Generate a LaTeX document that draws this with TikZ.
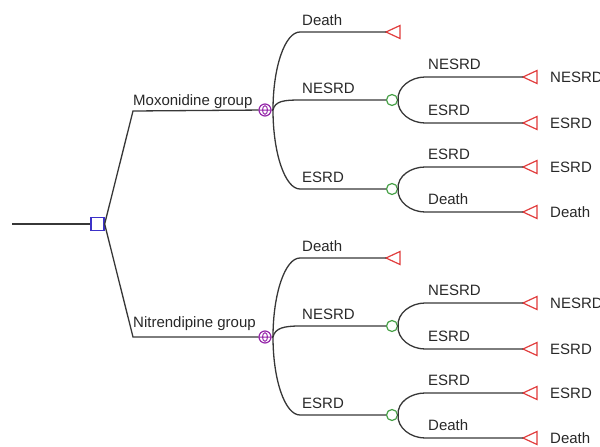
\documentclass[tikz,border=0pt]{standalone}
\usepackage{fontspec}
\setmainfont{Liberation Sans}
\definecolor{linegray}{RGB}{55,55,55}
\definecolor{textgray}{RGB}{40,40,40}
\definecolor{decblue}{RGB}{60,50,200}
\definecolor{chgreen}{RGB}{70,160,70}
\definecolor{mkpurple}{RGB}{150,40,170}
\definecolor{termred}{RGB}{225,60,60}
\begin{document}
\begin{tikzpicture}[x=1pt,y=-1pt,
  br/.style={draw=linegray, line width=1.3pt},
  decision/.style={draw=decblue, line width=1.3pt, rectangle, minimum width=13pt, minimum height=13pt, inner sep=0pt},
  chance/.style={draw=chgreen, line width=1.2pt, circle, minimum size=11pt, inner sep=0pt},
  markov/.style={draw=mkpurple, line width=1.2pt, circle, minimum size=12pt, inner sep=0pt},
  termtri/.style={draw=termred, line width=1.2pt, line join=miter},
  lbl/.style={font=\fontsize{15}{16}\selectfont, text=textgray, inner sep=0pt, anchor=base west},
]
\useasboundingbox (0,0) rectangle (600,447);

% root and decision node
\coordinate (root) at (12,224);
\node[decision] (dec) at (97.5,224) {};
\draw[br] (root) -- (dec);

% group corners
\coordinate (ka) at (133,111);
\coordinate (kb) at (133,337);

% markov nodes
\node[markov] (m1) at (265,110) {};
\node[markov] (m2) at (265,337) {};
\draw[mkpurple, line width=1pt] (m1.center) ellipse (2.5 and 4.3) (m1.west) -- (m1.east);
\draw[mkpurple, line width=1pt] (m2.center) ellipse (2.5 and 4.3) (m2.west) -- (m2.east);

\draw[br] (dec.east) -- (ka) -- (m1);
\draw[br] (dec.east) -- (kb) -- (m2);
\node[lbl] (lmox) at (133,105) {Moxonidine group};
\node[lbl] (lnit) at (133,327) {Nitrendipine group};

% chance nodes
\node[chance] (c1) at (392,100) {};
\node[chance] (c2) at (392,189) {};
\node[chance] (c3) at (392,326) {};
\node[chance] (c4) at (392,415) {};

% terminal apex coordinates
\coordinate (t1) at (386,32);
\coordinate (t2) at (386,258);
\coordinate (u1) at (523,77);
\coordinate (u2) at (523,123);
\coordinate (u3) at (523,167);
\coordinate (u4) at (523,212);
\coordinate (u5) at (523,303);
\coordinate (u6) at (523,349);
\coordinate (u7) at (523,393);
\coordinate (u8) at (523,438);

\foreach \t in {t1,t2,u1,u2,u3,u4,u5,u6,u7,u8}
  \draw[termtri] (\t) -- ++(14,-6.5) -- ++(0,13) -- cycle;

% upper markov branches
\coordinate (s1) at (273,110);
\draw[br] (m1.east) -- (s1);
\draw[br] (s1) .. controls (273,67) and (285,32) .. (300,32) -- (t1);
\draw[br] (s1) .. controls (275,101) and (284,100) .. (300,100) -- (c1);
\draw[br] (s1) .. controls (273,153) and (285,189) .. (300,189) -- (c2);

% lower markov branches
\coordinate (s2) at (273,337);
\draw[br] (m2.east) -- (s2);
\draw[br] (s2) .. controls (273,294) and (285,258) .. (300,258) -- (t2);
\draw[br] (s2) .. controls (275,328) and (284,326) .. (300,326) -- (c3);
\draw[br] (s2) .. controls (273,380) and (285,415) .. (300,415) -- (c4);

% chance branches
\draw[br] (c1.east) .. controls (397,87) and (411,77) .. (425,77) -- (u1);
\draw[br] (c1.east) .. controls (397,113) and (411,123) .. (425,123) -- (u2);
\draw[br] (c2.east) .. controls (397,176) and (411,167) .. (425,167) -- (u3);
\draw[br] (c2.east) .. controls (397,202) and (411,212) .. (425,212) -- (u4);
\draw[br] (c3.east) .. controls (397,313) and (411,303) .. (425,303) -- (u5);
\draw[br] (c3.east) .. controls (397,339) and (411,349) .. (425,349) -- (u6);
\draw[br] (c4.east) .. controls (397,402) and (411,393) .. (425,393) -- (u7);
\draw[br] (c4.east) .. controls (397,428) and (411,438) .. (425,438) -- (u8);

% branch labels (markov level)
\node[lbl] (b1) at (302,25) {Death};
\node[lbl] (b2) at (302,93) {NESRD};
\node[lbl] (b3) at (302,182) {ESRD};
\node[lbl] (b4) at (302,251) {Death};
\node[lbl] (b5) at (302,319) {NESRD};
\node[lbl] (b6) at (302,408) {ESRD};

% branch labels (chance level)
\node[lbl] (e1) at (428,69) {NESRD};
\node[lbl] (e2) at (428,115) {ESRD};
\node[lbl] (e3) at (428,159) {ESRD};
\node[lbl] (e4) at (428,204) {Death};
\node[lbl] (e5) at (428,295) {NESRD};
\node[lbl] (e6) at (428,341) {ESRD};
\node[lbl] (e7) at (428,385) {ESRD};
\node[lbl] (e8) at (428,430) {Death};

% terminal labels
\node[lbl] (r1) at (550,82.5) {NESRD};
\node[lbl] (r2) at (550,128.5) {ESRD};
\node[lbl] (r3) at (550,172.5) {ESRD};
\node[lbl] (r4) at (550,217.5) {Death};
\node[lbl] (r5) at (550,308.5) {NESRD};
\node[lbl] (r6) at (550,354.5) {ESRD};
\node[lbl] (r7) at (550,398.5) {ESRD};
\node[lbl] (r8) at (550,443.5) {Death};
\end{tikzpicture}
\end{document}
